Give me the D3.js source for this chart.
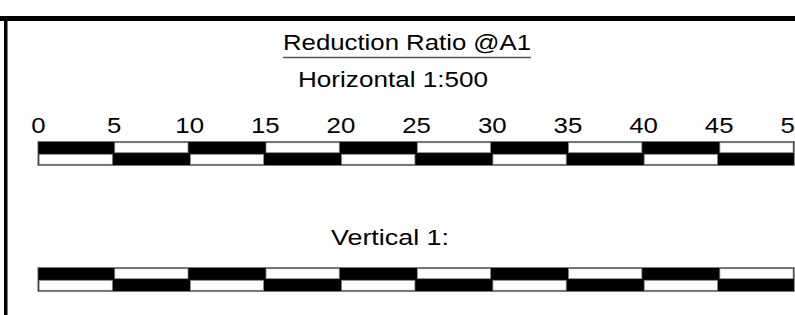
<!DOCTYPE html>
<html>
<head>
<meta charset="utf-8">
<script src="https://cdn.jsdelivr.net/npm/d3@7"></script>
<style>
  body { margin: 0; background: #fff; }
  svg { display: block; font-family: Arial, "Liberation Sans", sans-serif; }
</style>
</head>
<body>
<div id="chart"></div>
<script>
var title = "Reduction Ratio @A1";
var hLabel = "Horizontal 1:500";
var vLabel = "Vertical 1:";
var tickValues = [0, 5, 10, 15, 20, 25, 30, 35, 40, 45, 50];
var scaleMax = 50;

var width = 795, height = 315;

var svg = d3.select("#chart").append("svg")
.attr("width", width)
.attr("height", height);

var x = d3.scaleLinear()
.domain([0, scaleMax])
.range([37.9, 794.3]);

// frame lines
svg.append("rect").attr("x", 0).attr("y", 16).attr("width", width).attr("height", 5).attr("fill", "#000");
svg.append("rect").attr("x", 4).attr("y", 16).attr("width", 3.5).attr("height", height - 16).attr("fill", "#000");

// headings (text in the drawing is stretched wider than normal)
function heading(str, x0, y0, len) {
	return svg.append("text")
	.attr("x", x0).attr("y", y0)
	.attr("font-size", "22px")
	.attr("fill", "#000")
	.attr("textLength", len)
	.attr("lengthAdjust", "spacingAndGlyphs")
	.text(str);
}

heading(title, 283, 50, 248);
svg.append("line")
.attr("x1", 283).attr("x2", 531)
.attr("y1", 57.5).attr("y2", 57.5)
.attr("stroke", "#555").attr("stroke-width", 1.5);

heading(hLabel, 298, 86.5, 190);
heading(vLabel, 331, 245, 118);

// tick labels
var axis = svg.append("g")
.attr("transform", "translate(0,133)")
.call(d3.axisTop(x).tickValues(tickValues).tickSize(0).tickPadding(0));
axis.select(".domain").remove();
axis.selectAll("text")
.attr("font-size", "21.5px")
.attr("font-family", "Arial, 'Liberation Sans', sans-serif")
.attr("fill", "#000")
.attr("transform", "scale(1.2,1)");

// scale bars
var segments = d3.range(tickValues.length - 1);

function drawBar(top) {
	var h = 24, half = h / 2;
	var g = svg.append("g");
	g.append("rect")
	.attr("x", x(0)).attr("y", top)
	.attr("width", x(scaleMax) - x(0)).attr("height", h)
	.attr("fill", "#000")
	.attr("stroke", "#777").attr("stroke-width", 0.8);

	g.selectAll("rect.cell")
	.data(segments)
	.enter()
	.append("rect")
	.attr("class", "cell")
	.attr("x", function(i) { return x(tickValues[i]) + 1.2; })
	.attr("y", function(i) { return (i % 2 == 1) ? top + 1.2 : top + half + 0.8; })
	.attr("width", function(i) { return x(tickValues[i + 1]) - x(tickValues[i]) - 2.4; })
	.attr("height", half - 2)
	.attr("fill", "#fff")
	.attr("stroke", "#888")
	.attr("stroke-width", 0.8);
}

drawBar(141.5);
drawBar(267.5);
</script>
</body>
</html>
